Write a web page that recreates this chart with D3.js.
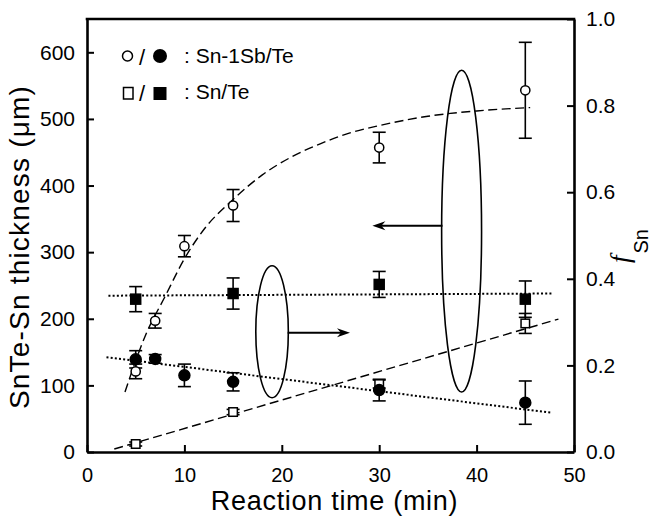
<!DOCTYPE html>
<html>
<head>
<meta charset="utf-8">
<script src="https://cdn.jsdelivr.net/npm/d3@7"></script>
<style>
  body { margin: 0; background: #fff; }
  svg { display: block; font-family: "Liberation Sans", Arial, sans-serif; }
</style>
</head>
<body>
<script>
//reaction times (min)
var sbTimes = [5, 7, 10, 15, 30, 45];
var snTimes = [5, 15, 30, 45];

//SnTe-Sn thickness (um), left axis
var sbThick = [121, 197, 309, 370, 457, 543];
var sbThickErr = [11, 11, 16, 24, 23, 72];
var snThick = [12, 60, 102, 193];
var snThickErr = [3, 4, 6, 15];

//f_Sn, right axis
var sbFrac = [0.214, 0.215, 0.177, 0.162, 0.143, 0.114];
var sbFracErr = [0.02, 0.01, 0.026, 0.021, 0.025, 0.05];
var snFrac = [0.353, 0.366, 0.387, 0.353];
var snFracErr = [0.029, 0.036, 0.03, 0.042];

//guide lines [time, value]
var sbThickFit = [[3.9, 90], [5, 137], [6, 175], [8, 233], [10, 290], [12, 334], [15, 379], [18, 416],
                  [21, 443], [24, 463], [27, 479], [30, 490], [35, 504], [40, 512], [45.5, 517]];
var snThickFit = [[2.8, 4.5], [48.4, 199.5]];
var snFracFit = [[2.2, 0.361], [47.9, 0.366]];
var sbFracFit = [[2.0, 0.219], [47.6, 0.091]];

//tick values
var xTicks = [0, 10, 20, 30, 40, 50];
var yTicks = [0, 100, 200, 300, 400, 500, 600];
var y2Ticks = [0, 0.2, 0.4, 0.6, 0.8, 1.0];

var width = 652, height = 522;
var margin = {top: 19, right: 78, bottom: 70, left: 87};

var svg = d3.select("body").append("svg")
    .attr("width", width)
    .attr("height", height);

var x = d3.scaleLinear().domain([0, 50]).range([margin.left, width - margin.right]);
var y = d3.scaleLinear().domain([0, 650]).range([height - margin.bottom, margin.top]);
var y2 = d3.scaleLinear().domain([0, 1]).range([height - margin.bottom, margin.top]);

//guide lines
var line = d3.line().curve(d3.curveMonotoneX);

function drawLine(pts, scaleY, dash){
    svg.append("path")
        .attr("d", line(pts.map(function(p){ return [x(p[0]), scaleY(p[1])]; })))
        .attr("fill", "none")
        .attr("stroke", "#000")
        .attr("stroke-width", dash == "dot" ? 2 : 1.4)
        .attr("stroke-dasharray", dash == "dot" ? "2,2.2" : "9,4.5");
}
drawLine(sbThickFit, y, "dash");
drawLine(snThickFit, y, "dash");
drawLine(snFracFit, y2, "dot");
drawLine(sbFracFit, y2, "dot");

//error bars
function drawErr(times, vals, errs, scaleY){
    var g = svg.append("g").attr("stroke", "#000").attr("stroke-width", 1.6);
    times.forEach(function(t, i){
        var cx = x(t), lo = scaleY(vals[i] - errs[i]), hi = scaleY(vals[i] + errs[i]);
        g.append("line").attr("x1", cx).attr("x2", cx).attr("y1", lo).attr("y2", hi);
        g.append("line").attr("x1", cx - 6.5).attr("x2", cx + 6.5).attr("y1", lo).attr("y2", lo);
        g.append("line").attr("x1", cx - 6.5).attr("x2", cx + 6.5).attr("y1", hi).attr("y2", hi);
    });
}
drawErr(sbTimes, sbThick, sbThickErr, y);
drawErr(snTimes, snThick, snThickErr, y);
drawErr(sbTimes, sbFrac, sbFracErr, y2);
drawErr(snTimes, snFrac, snFracErr, y2);

//markers
function drawCircles(times, vals, scaleY, filled){
    svg.append("g").selectAll("circle")
        .data(times)
        .enter()
        .append("circle")
        .attr("cx", function(d){ return x(d); })
        .attr("cy", function(d, i){ return scaleY(vals[i]); })
        .attr("r", filled ? 5.5 : 4.6)
        .attr("fill", filled ? "#000" : "#fff")
        .attr("stroke", "#000")
        .attr("stroke-width", 1.5);
}
function drawSquares(times, vals, scaleY, filled){
    var s = filled ? 10 : 8.5;
    svg.append("g").selectAll("rect")
        .data(times)
        .enter()
        .append("rect")
        .attr("x", function(d){ return x(d) - s / 2; })
        .attr("y", function(d, i){ return scaleY(vals[i]) - s / 2; })
        .attr("width", s)
        .attr("height", s)
        .attr("fill", filled ? "#000" : "#fff")
        .attr("stroke", "#000")
        .attr("stroke-width", 1.5);
}
drawSquares(snTimes, snThick, y, false);
drawCircles(sbTimes, sbThick, y, false);
drawSquares(snTimes, snFrac, y2, true);
drawCircles(sbTimes, sbFrac, y2, true);

//annotation ellipses and arrows (data coords)
function arrow(t1, t2, v){
    var x1 = x(t1), x2 = x(t2), yy = y(v), dir = x2 > x1 ? 1 : -1;
    svg.append("line")
        .attr("x1", x1).attr("x2", x2 - dir * 6).attr("y1", yy).attr("y2", yy)
        .attr("stroke", "#000").attr("stroke-width", 2);
    svg.append("path")
        .attr("d", "M" + x2 + "," + yy +
            "L" + (x2 - dir * 13) + "," + (yy - 4.5) +
            "L" + (x2 - dir * 9) + "," + yy +
            "L" + (x2 - dir * 13) + "," + (yy + 4.5) + "Z")
        .attr("fill", "#000");
}
function ellipse(t, v, rt, rv){
    svg.append("ellipse")
        .attr("cx", x(t)).attr("cy", y(v))
        .attr("rx", x(t + rt) - x(t)).attr("ry", y(v) - y(v + rv))
        .attr("fill", "none").attr("stroke", "#000").attr("stroke-width", 1.6);
}
ellipse(19.0, 180.5, 1.67, 99);
arrow(20.6, 27.0, 179);
ellipse(38.46, 331.5, 2.05, 241.5);
arrow(36.5, 29.3, 339.5);

//axes
var fontSize = "20px";
var xAxis = svg.append("g")
    .attr("transform", "translate(0," + y(0) + ")")
    .call(d3.axisBottom(x).tickValues(xTicks).tickSizeInner(-7).tickSizeOuter(0).tickPadding(16));
var yAxis = svg.append("g")
    .attr("transform", "translate(" + x(0) + ",0)")
    .call(d3.axisLeft(y).tickValues(yTicks).tickSizeInner(-7).tickSizeOuter(0).tickPadding(12));
var y2Axis = svg.append("g")
    .attr("transform", "translate(" + x(50) + ",0)")
    .call(d3.axisRight(y2).tickValues(y2Ticks).tickFormat(d3.format(".1f")).tickSizeInner(-7).tickSizeOuter(0).tickPadding(12));

[xAxis, yAxis, y2Axis].forEach(function(a){
    a.attr("font-family", null).attr("font-size", null);
    a.selectAll("text").style("font-size", fontSize).attr("fill", "#000");
    a.selectAll("line").attr("stroke-width", 2);
    a.select(".domain").attr("stroke-width", 2.6);
});
yAxis.selectAll("text").style("font-size", "21px");
y2Axis.selectAll("text").style("font-size", "21px");

//top frame
svg.append("line")
    .attr("x1", x(0) - 1.3).attr("x2", x(50) + 1.3)
    .attr("y1", y(650)).attr("y2", y(650))
    .attr("stroke", "#000").attr("stroke-width", 2.6);

//axis titles
svg.append("text")
    .attr("x", (x(0) + x(50)) / 2 + 4)
    .attr("y", 510)
    .attr("text-anchor", "middle")
    .style("font-size", "27px")
    .style("letter-spacing", "0.7px")
    .text("Reaction time (min)");

svg.append("text")
    .attr("transform", "translate(28.5,247) rotate(-90)")
    .attr("text-anchor", "middle")
    .style("font-size", "28px")
    .style("letter-spacing", "1.2px")
    .text("SnTe-Sn thickness (\u03bcm)");

var fLabel = svg.append("text")
    .attr("transform", "translate(629,263) rotate(-90)");
fLabel.append("tspan")
    .style("font-family", "'Liberation Serif', 'DejaVu Serif', serif")
    .style("font-style", "italic")
    .style("font-size", "27px")
    .text("f");
fLabel.append("tspan")
    .attr("dy", 19)
    .attr("dx", 2)
    .style("font-size", "20px")
    .text("Sn");

//legend
var legend = svg.append("g");
legend.append("circle").attr("cx", 127.5).attr("cy", 56).attr("r", 5)
    .attr("fill", "#fff").attr("stroke", "#000").attr("stroke-width", 1.5);
legend.append("circle").attr("cx", 160).attr("cy", 56).attr("r", 7)
    .attr("fill", "#000");
legend.append("rect").attr("x", 123.5).attr("y", 87.5).attr("width", 9.5).attr("height", 11.5)
    .attr("fill", "#fff").attr("stroke", "#000").attr("stroke-width", 1.5);
legend.append("rect").attr("x", 153.5).attr("y", 87).attr("width", 13).attr("height", 13)
    .attr("fill", "#000");
[63, 99].forEach(function(base, i){
    legend.append("text").attr("x", 142).attr("y", base + 2).attr("text-anchor", "middle")
        .style("font-size", "22px").text("/");
    legend.append("text").attr("x", 184).attr("y", base)
        .style("font-size", "21px")
        .text(i == 0 ? ": Sn-1Sb/Te" : ": Sn/Te");
});
</script>
</body>
</html>
